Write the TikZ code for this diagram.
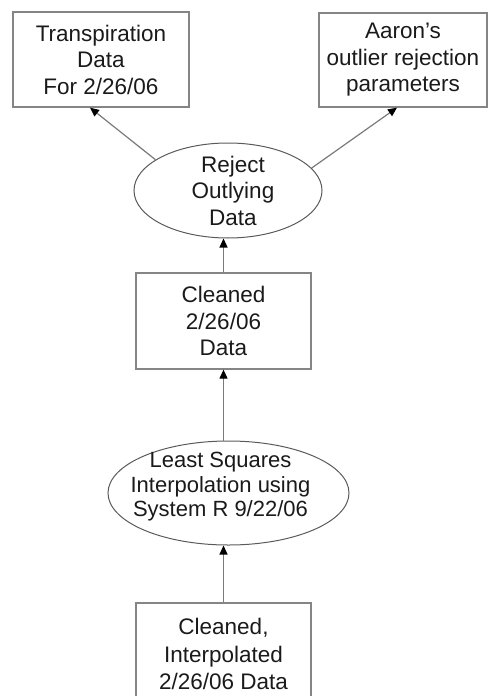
\documentclass[tikz,border=0pt]{standalone}
\usepackage{fontspec}
\setmainfont{Liberation Sans}
\usetikzlibrary{arrows.meta,shapes.geometric}
\definecolor{boxline}{HTML}{858585}
\definecolor{ellline}{HTML}{5A5A5A}
\definecolor{arrline}{HTML}{7A7A7A}
\definecolor{txt}{HTML}{1A1A1A}
\tikzset{
  boxnode/.style={draw=boxline, line width=1.3pt, rectangle, inner sep=0pt, align=center, text=txt,
    font=\fontsize{22.5}{26.5}\selectfont},
  ellnode/.style={draw=ellline, line width=1pt, ellipse, inner sep=0pt},
  elltext/.style={inner sep=0pt, align=center, text=txt, font=\fontsize{22.5}{26.5}\selectfont},
  arr/.style={draw=arrline, line width=1.2pt, -{Triangle[width=8pt,length=9pt,color=black]}}
}
\begin{document}
\begin{tikzpicture}[x=1pt,y=-1pt]
\useasboundingbox (0,0) rectangle (488,696);
\clip (0,0) rectangle (488,696);
\node[boxnode, minimum width=176pt, minimum height=95pt] (b1) at (101,59.5) {Transpiration\\Data\\For 2/26/06};
\node[boxnode, minimum width=168pt, minimum height=94pt] (b2) at (403,60) {Aaron’s\\outlier rejection\\parameters};
\node[ellnode, minimum width=188pt, minimum height=95pt] (e1) at (228,190.5) {};
\node[elltext] (e1t) at (233,190.5) {Reject\\Outlying\\Data};
\node[boxnode, minimum width=175pt, minimum height=96pt] (b3) at (223.5,321) {Cleaned\\2/26/06\\Data};
\node[ellnode, minimum width=241pt, minimum height=104pt] (e2) at (228.5,493) {};
\node[elltext, font=\fontsize{22}{24.5}\selectfont] (e2t) at (220.5,487) {Least Squares\\Interpolation using\\System R 9/22/06};
\node[boxnode, minimum width=175pt, minimum height=102pt, font=\fontsize{22.5}{27.5}\selectfont] (b4) at (223.5,654) {Cleaned,\\Interpolated\\2/26/06 Data};
\draw[arr] (e1.157.5) -- ([xshift=-11pt]b1.south);
\draw[arr] (e1.15.6) -- ([xshift=-6pt]b2.south);
\draw[arr] (b3.north) -- (b3.north |- e1.south);
\draw[arr] (b3.south |- e2.north) -- (b3.south);
\draw[arr] (b4.north) -- (b4.north |- e2.south);
\end{tikzpicture}
\end{document}
